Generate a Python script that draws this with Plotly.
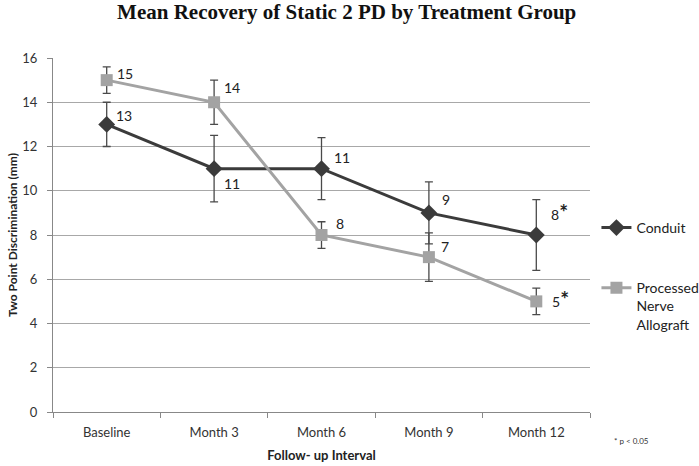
import plotly.graph_objects as go

categories = ["Baseline", "Month 3", "Month 6", "Month 9", "Month 12"]
conduit = [13, 11, 11, 9, 8]
conduit_err = [1.0, 1.5, 1.4, 1.4, 1.6]
pna = [15, 14, 8, 7, 5]
pna_err = [0.6, 1.0, 0.6, 1.1, 0.6]
star = "<span style='font-size:21px'><b>*</b></span>"
conduit_labels = ["13", "11", "11", "9", "8" + star]
pna_labels = ["15", "14", "8", "7", "5" + star]
y_ticks = [0, 2, 4, 6, 8, 10, 12, 14, 16]

FONT = "Lato, 'Open Sans', sans-serif"
C_DARK = "#3b3b3b"
C_LIGHT = "#a3a3a3"

fig = go.Figure()
fig.add_trace(go.Scatter(
    x=categories, y=conduit, name="Conduit", mode="lines+markers",
    line=dict(color=C_DARK, width=3),
    marker=dict(symbol="diamond", size=13, color=C_DARK),
    error_y=dict(type="data", array=conduit_err, visible=True, color="#4a4a4a", thickness=1.3, width=4),
    legendgroup="a",
))
fig.add_trace(go.Scatter(
    x=categories, y=pna, name="Processed<br>Nerve<br>Allograft", mode="lines+markers",
    line=dict(color=C_LIGHT, width=3),
    marker=dict(symbol="square", size=12, color=C_LIGHT),
    error_y=dict(type="data", array=pna_err, visible=True, color="#4a4a4a", thickness=1.3, width=4),
    legendgroup="b",
))

# data labels (offsets in pixels)
c_off = [(17, 9), (18, -15), (20, 11), (17, 13), (23, 24)]
p_off = [(18, 7), (18, 15), (18, 12), (16, 11), (24, 3)]
ann = []
for cat, v, lab, (dx, dy) in zip(categories, conduit, conduit_labels, c_off):
    ann.append(dict(x=cat, y=v, text=lab, showarrow=False, xshift=dx, yshift=dy,
                    font=dict(family=FONT, size=14, color="#222")))
for cat, v, lab, (dx, dy) in zip(categories, pna, pna_labels, p_off):
    ann.append(dict(x=cat, y=v, text=lab, showarrow=False, xshift=dx, yshift=dy,
                    font=dict(family=FONT, size=14, color="#222")))
ann.append(dict(xref="paper", yref="paper", x=1.041, y=-0.102, text="* p < 0.05",
                showarrow=False, xanchor="left", font=dict(family=FONT, size=8, color="#333")))

fig.update_layout(
    width=699, height=466,
    margin=dict(l=53, r=109, t=58, b=54, autoexpand=False),
    paper_bgcolor="white", plot_bgcolor="white",
    title=dict(text="<b>Mean Recovery of Static 2 PD by Treatment Group</b>",
               x=0.496, xanchor="center", y=0.976, yanchor="middle",
               font=dict(family="'Liberation Serif', 'Times New Roman', serif", size=21, color="#111")),
    font=dict(family=FONT, size=13, color="#333"),
    annotations=ann,
    showlegend=True,
    legend=dict(x=1.012, y=0.565, xanchor="left", yanchor="top", tracegroupgap=39,
                valign="top", font=dict(family=FONT, size=14, color="#222"),
                bgcolor="rgba(0,0,0,0)", itemwidth=30),
    xaxis=dict(
        type="category", range=[-0.5, 4.5], tickson="boundaries", automargin=False,
        showline=True, linecolor="#888", linewidth=1,
        ticks="outside", ticklen=5, tickcolor="#888", ticklabelstandoff=8,
        showgrid=False, tickfont=dict(family=FONT, size=13, color="#333"),
        title=dict(text="<b>Follow- up Interval</b>", standoff=12,
                   font=dict(family=FONT, size=13, color="#222")),
    ),
    yaxis=dict(
        range=[0, 16], tickvals=y_ticks, showline=True, linecolor="#888", linewidth=1,
        ticks="outside", ticklen=5, tickcolor="#888", automargin=False, ticklabelstandoff=7,
        showgrid=True, gridcolor="#a8a8a8", gridwidth=1, zeroline=False,
        tickfont=dict(family=FONT, size=13, color="#333"),
        title=dict(text="<b>Two Point Discrimination (mm)</b>", standoff=2,
                   font=dict(family=FONT, size=12, color="#222")),
    ),
)
fig.write_html("out.html", config={"displayModeBar": False},
               post_script="document.body.style.margin='0';")
